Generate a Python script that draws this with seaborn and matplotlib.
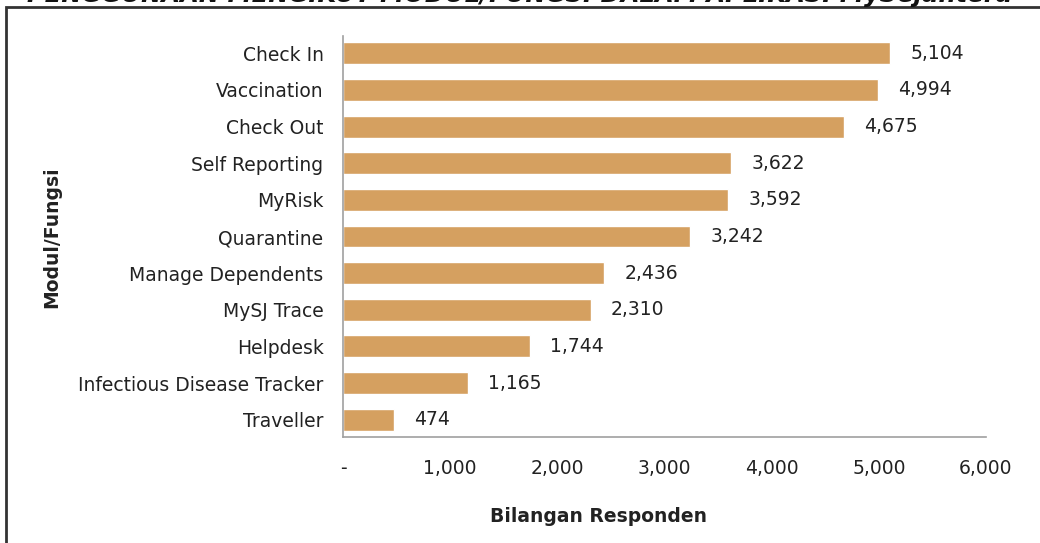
import matplotlib
matplotlib.use('Agg')
import matplotlib.pyplot as plt
import seaborn as sns
import pandas as pd
from matplotlib.patches import Rectangle

modul = ['Check In', 'Vaccination', 'Check Out', 'Self Reporting', 'MyRisk',
         'Quarantine', 'Manage Dependents', 'MySJ Trace', 'Helpdesk',
         'Infectious Disease Tracker', 'Traveller']
responden = [5104, 4994, 4675, 3622, 3592, 3242, 2436, 2310, 1744, 1165, 474]
xticks = [0, 1000, 2000, 3000, 4000, 5000, 6000]
xticklabels = ['-', '1,000', '2,000', '3,000', '4,000', '5,000', '6,000']

df = pd.DataFrame({'Modul': modul, 'Responden': responden})

sns.set_style('white')
plt.rcParams['font.family'] = ['DejaVu Sans']
plt.rcParams['text.color'] = '#222222'

fig = plt.figure(figsize=(10.4, 5.43), dpi=100)
ax = fig.add_axes([343/1040, 1-437/543, (986-343)/1040, (437-36)/543])

sns.barplot(data=df, x='Responden', y='Modul', color='#D5A060', width=0.6,
            saturation=1, ax=ax, orient='h')

for i, v in enumerate(responden):
    ax.text(v + 190, i, f'{v:,}', va='center', ha='left', fontsize=13.5, color='#222222')

ax.set_xlim(0, 6000)
ax.set_ylim(10.47, -0.47)
ax.set_xticks(xticks)
ax.set_xticklabels(xticklabels)
ax.tick_params(axis='x', length=0, pad=16, labelsize=13.5, colors='#222222')
ax.tick_params(axis='y', length=0, pad=14, labelsize=13.5, colors='#222222')
for s in ['top', 'right']:
    ax.spines[s].set_visible(False)
for s in ['left', 'bottom']:
    ax.spines[s].set_color('#a0a0a0')
    ax.spines[s].set_linewidth(1.2)

ax.set_xlabel('')
ax.set_ylabel('')
fig.text(598/1040, 1-517/543, 'Bilangan Responden', ha='center', va='center',
         fontsize=13.5, fontweight='bold', color='#222222')
fig.text(52/1040, 1-237/543, 'Modul/Fungsi', ha='center', va='center',
         rotation=90, fontsize=13.5, fontweight='bold', color='#222222')

fig.text(0.5, 1-2/543, 'PENGGUNAAN MENGIKUT MODUL/FUNGSI DALAM APLIKASI MySejahtera',
         ha='center', va='baseline', fontsize=17.5, fontweight='bold',
         fontstyle='italic', color='#111111')

fig.patches.append(Rectangle((6/1040, -0.1), 1.2, 1.1 - 7/543, transform=fig.transFigure,
                             fill=False, edgecolor='#333333', linewidth=2, clip_on=False))

fig.savefig('out.png', dpi=100)
